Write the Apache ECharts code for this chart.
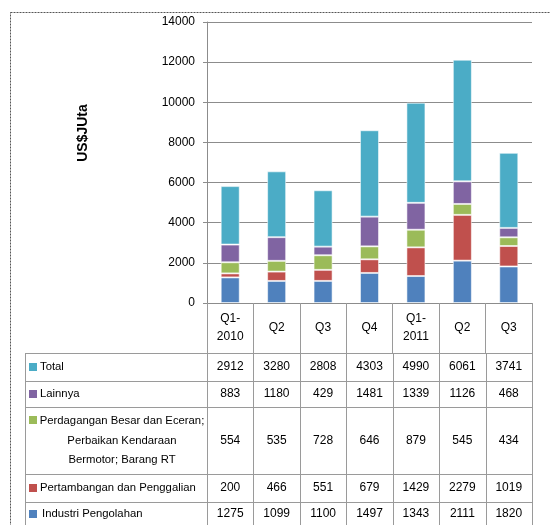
<!DOCTYPE html>
<html>
<head>
<meta charset="utf-8">
<script src="https://cdn.jsdelivr.net/npm/echarts@6/dist/echarts.min.js"></script>
<style>
  html, body { margin: 0; padding: 0; background: #fff; }
  #chart { width: 550px; height: 525px; }
</style>
</head>
<body>
<div id="chart"></div>
<script>
// Quarterly categories (header row of the data table)
var categories = ['Q1-\n2010', 'Q2', 'Q3', 'Q4', 'Q1-\n2011', 'Q2', 'Q3'];

// Series values, US$ juta
var industriPengolahan = [1275, 1099, 1100, 1497, 1343, 2111, 1820];
var pertambangan       = [200, 466, 551, 679, 1429, 2279, 1019];
var perdagangan        = [554, 535, 728, 646, 879, 545, 434];
var lainnya            = [883, 1180, 429, 1481, 1339, 1126, 468];
var total              = [2912, 3280, 2808, 4303, 4990, 6061, 3741];

// Value axis ticks
var yTicks = [0, 2000, 4000, 6000, 8000, 10000, 12000, 14000];

// Series names as shown in the table (top row first)
var seriesNames = ['Total', 'Lainnya',
  'Perdagangan Besar dan Eceran;\nPerbaikan Kendaraan\nBermotor; Barang RT',
  'Pertambangan dan Penggalian', 'Industri Pengolahan'];

var colors = {
  industri: '#4f81bd',
  tambang: '#c0504d',
  dagang: '#9bbb59',
  lain: '#8064a2',
  total: '#4bacc6'
};

var FONT = '"Liberation Sans", Arial, sans-serif';
var GRID = { left: 207, right: 18, top: 22, bottom: 222 };
var lineCol = '#9a9a9a';

var chart = echarts.init(document.getElementById('chart'), null, { renderer: 'canvas' });

function barSeries(name, data, color) {
  return {
    name: name,
    type: 'bar',
    stack: 'all',
    data: data,
    barWidth: '41%',
    itemStyle: { color: color, borderColor: 'rgba(255,255,255,0.55)', borderWidth: 1 },
    emphasis: { disabled: true }
  };
}

chart.setOption({
  animation: false,
  textStyle: { fontFamily: FONT },
  grid: GRID,
  xAxis: {
    type: 'category',
    data: categories,
    boundaryGap: true,
    axisLine: { show: true, lineStyle: { color: '#8c8c8c', width: 1 } },
    axisTick: { show: true, length: 50, lineStyle: { color: lineCol, width: 1 } },
    axisLabel: {
      color: '#000', fontSize: 12, fontFamily: FONT,
      margin: 25, verticalAlign: 'middle', lineHeight: 18, interval: 0
    }
  },
  yAxis: {
    type: 'value',
    min: yTicks[0],
    max: yTicks[yTicks.length - 1],
    interval: yTicks[1] - yTicks[0],
    axisLine: { show: true, lineStyle: { color: '#8c8c8c', width: 1 } },
    axisTick: { show: true, length: 4, lineStyle: { color: '#8c8c8c' } },
    axisLabel: {
      color: '#000', fontSize: 12, fontFamily: FONT, margin: 12,
      formatter: function (v) { return String(v); }
    },
    splitLine: { show: true, lineStyle: { color: '#8c8c8c', width: 1 } }
  },
  series: [
    barSeries('Industri Pengolahan', industriPengolahan, colors.industri),
    barSeries('Pertambangan dan Penggalian', pertambangan, colors.tambang),
    barSeries('Perdagangan Besar dan Eceran; Perbaikan Kendaraan Bermotor; Barang RT', perdagangan, colors.dagang),
    barSeries('Lainnya', lainnya, colors.lain),
    barSeries('Total', total, colors.total)
  ]
});

// Data table under the axis, columns aligned to the category scale
(function buildTable() {
  var centers = categories.map(function (c, i) {
    return chart.convertToPixel({ xAxisIndex: 0 }, i);
  });
  var half = (centers[1] - centers[0]) / 2;
  var bounds = [centers[0] - half];
  centers.forEach(function (c) { bounds.push(c + half); });

  var tableLeft = 25;
  var tableRight = bounds[bounds.length - 1];
  var rowEdges = [353, 381, 407, 474, 502, 530];
  var rows = [
    { data: total, color: colors.total, label: seriesNames[0] },
    { data: lainnya, color: colors.lain, label: seriesNames[1] },
    { data: perdagangan, color: colors.dagang, label: seriesNames[2] },
    { data: pertambangan, color: colors.tambang, label: seriesNames[3] },
    { data: industriPengolahan, color: colors.industri, label: seriesNames[4] }
  ];

  var els = [];
  var ls = { stroke: lineCol, lineWidth: 1 };

  // horizontal rules
  rowEdges.slice(0, 5).forEach(function (y) {
    els.push({ type: 'line', shape: { x1: tableLeft, y1: y + 0.5, x2: tableRight + 0.5, y2: y + 0.5 }, style: ls, silent: true });
  });
  // vertical rules
  els.push({ type: 'line', shape: { x1: tableLeft + 0.5, y1: rowEdges[0], x2: tableLeft + 0.5, y2: 525 }, style: ls, silent: true });
  bounds.forEach(function (x) {
    var px = Math.round(x) + 0.5;
    els.push({ type: 'line', shape: { x1: px, y1: rowEdges[0], x2: px, y2: 525 }, style: ls, silent: true });
  });

  rows.forEach(function (r, ri) {
    var yc = (rowEdges[ri] + rowEdges[ri + 1]) / 2;
    if (ri === 4) yc = 514;
    var multi = r.label.indexOf('\n') >= 0;
    // legend key
    els.push({
      type: 'rect',
      shape: { x: 29, y: (multi ? 416 : yc - 4), width: 8, height: 8 },
      style: { fill: r.color },
      silent: true
    });
    // row label
    els.push({
      type: 'text',
      x: multi ? 122 : (ri === 4 ? 42 : 40),
      y: yc,
      style: {
        text: r.label,
        fill: '#000',
        font: '11.3px ' + FONT,
        align: multi ? 'center' : 'left',
        verticalAlign: 'middle',
        lineHeight: 19.5
      },
      silent: true
    });
    // values
    r.data.forEach(function (v, ci) {
      els.push({
        type: 'text',
        x: centers[ci],
        y: yc,
        style: { text: String(v), fill: '#000', font: '12px ' + FONT, align: 'center', verticalAlign: 'middle' },
        silent: true
      });
    });
  });

  // y-axis title
  els.push({
    type: 'text',
    x: 83, y: 133,
    rotation: Math.PI / 2,
    style: { text: 'US$JUta', fill: '#000', font: 'bold 14px ' + FONT, align: 'center', verticalAlign: 'middle' },
    silent: true
  });

  // dotted chart-area frame
  els.push({
    type: 'rect',
    shape: { x: 10.5, y: 12.5, width: 560, height: 540 },
    style: { fill: null, stroke: '#555', lineWidth: 1, lineDash: [2, 1] },
    silent: true
  });

  chart.setOption({ graphic: { elements: els } });
})();
</script>
</body>
</html>
